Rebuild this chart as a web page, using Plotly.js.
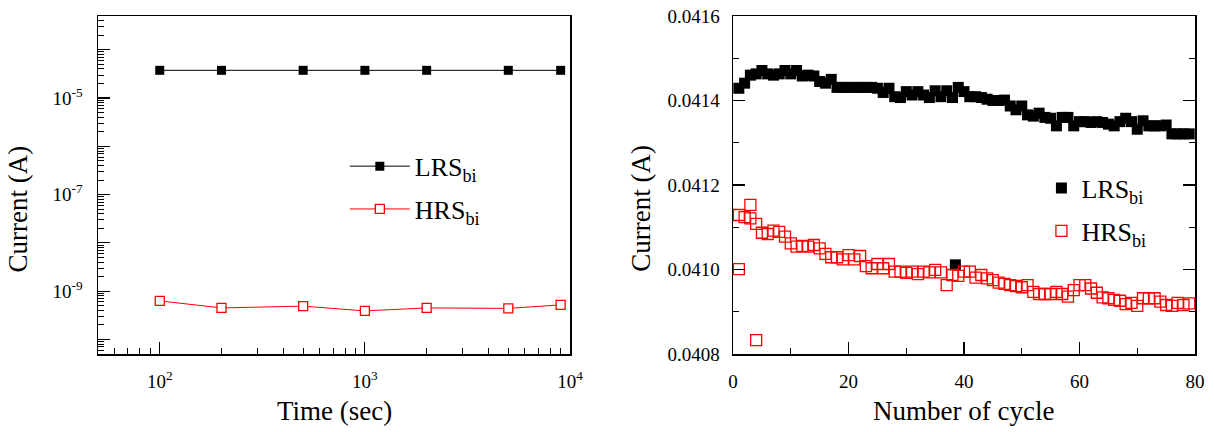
<!DOCTYPE html>
<html><head><meta charset="utf-8">
<script src="https://cdn.plot.ly/plotly-3.0.1.min.js"></script>
<style>html,body{margin:0;padding:0;background:#fff}#chart{width:1214px;height:432px}</style>
</head><body><div id="chart"></div>
<script>
// ---- Left panel: retention (log-log) ----
const timeSec = [100, 200, 500, 1000, 2000, 5000, 9000];
const lrsRetention = [3.75e-5, 3.75e-5, 3.75e-5, 3.75e-5, 3.75e-5, 3.75e-5, 3.75e-5];
const hrsRetention = [6.3e-10, 4.5e-10, 4.9e-10, 3.9e-10, 4.5e-10, 4.4e-10, 5.2e-10];
const leftYTickVals = [1e-10, 1e-9, 1e-8, 1e-7, 1e-6, 1e-5, 1e-4];
const leftYTickText = ['', '10<sup>-9</sup>', '', '10<sup>-7</sup>', '', '10<sup>-5</sup>', ''];
const leftXTickVals = [100, 1000, 10000];
const leftXTickText = ['10<sup>2</sup>', '10<sup>3</sup>', '10<sup>4</sup>'];

// ---- Right panel: endurance ----
const lrsCycle = [1,2,3,4,5,6,7,8,9,10,11,12,13,14,15,16,17,18,19,20,21,22,23,24,25,26,27,28,29,30,31,32,33,34,35,36,37,38,38.5,39,40,41,42,43,44,45,46,47,48,49,50,51,52,53,54,55,56,57,58,59,60,61,62,63,64,65,66,67,68,69,70,71,72,73,74,75,76,77,78,79];
const lrsCurrent = [0.041429,0.041441,0.041460,0.041463,0.041471,0.041463,0.041460,0.041463,0.041471,0.041463,
  0.041471,0.041458,0.041460,0.041458,0.041445,0.041441,0.041450,0.041431,0.041431,0.041431,
  0.041431,0.041431,0.041431,0.041431,0.041429,0.041419,0.041429,0.041409,0.041407,0.041421,
  0.041413,0.041421,0.041413,0.041407,0.041423,0.041409,0.041423,0.041407,0.041011,0.041431,
  0.041421,0.041409,0.041409,0.041407,0.041403,0.041400,0.041400,0.041401,0.041387,0.041378,
  0.041387,0.041366,0.041363,0.041370,0.041360,0.041358,0.041340,0.041360,0.041360,0.041340,
  0.041350,0.041350,0.041348,0.041350,0.041348,0.041344,0.041340,0.041350,0.041358,0.041350,
  0.041332,0.041352,0.041340,0.041340,0.041340,0.041342,0.041321,0.041321,0.041321,0.041321];
const hrsCycle = [1,2,3,4,5,6,7,8,9,10,11,12,13,14,15,16,17,18,19,20,21,22,23,24,25,26,27,28,29,30,31,32,33,34,35,36,37,38,39,40,41,42,43,44,45,46,47,48,49,50,51,52,53,54,55,56,57,58,59,60,61,62,63,64,65,66,67,68,69,70,71,72,73,74,75,76,77,78,79,1,3,4];
const hrsCurrent = [0.041129,0.041124,0.041121,0.041108,0.041087,0.041084,0.041092,0.041089,0.041078,0.041062,
  0.041054,0.041056,0.041054,0.041058,0.041050,0.041037,0.041029,0.041029,0.041024,0.041034,
  0.041024,0.041032,0.041008,0.041003,0.041013,0.041003,0.041013,0.040995,0.040995,0.040992,
  0.040995,0.040989,0.040995,0.040993,0.040999,0.040993,0.040963,0.040987,0.040985,0.040995,
  0.040995,0.040981,0.040987,0.040979,0.040975,0.040969,0.040966,0.040963,0.040961,0.040958,
  0.040963,0.040947,0.040942,0.040942,0.040942,0.040947,0.040942,0.040936,0.040951,0.040963,
  0.040963,0.040955,0.040945,0.040934,0.040932,0.040928,0.040926,0.040918,0.040921,0.040914,
  0.040932,0.040932,0.040932,0.040924,0.040916,0.040914,0.040921,0.040916,0.040920,
  0.041001,0.041153,0.040833];

function decadeMinors(lo, hi) {
  const out = [];
  for (let e = lo; e <= hi; e++) {
    for (let m = 2; m <= 9; m++) out.push(m * Math.pow(10, e));
  }
  return out;
}

const FONT = 'Liberation Serif, Times New Roman, serif';
const traces = [
  {x: timeSec, y: lrsRetention, name: 'LRS<sub>bi</sub>', type: 'scatter', mode: 'lines+markers',
   xaxis: 'x', yaxis: 'y', legend: 'legend', legendgroup: 'a',
   line: {color: '#000', width: 1}, marker: {symbol: 'square', size: 9, color: '#000'}},
  {x: timeSec, y: hrsRetention, name: 'HRS<sub>bi</sub>', type: 'scatter', mode: 'lines+markers',
   xaxis: 'x', yaxis: 'y', legend: 'legend', legendgroup: 'b',
   line: {color: '#ff0000', width: 1}, marker: {symbol: 'square', size: 9, color: '#fff', line: {color: '#ff0000', width: 1.3}}},
  {x: lrsCycle, y: lrsCurrent, name: 'LRS<sub>bi</sub>', type: 'scatter', mode: 'markers',
   xaxis: 'x2', yaxis: 'y2', legend: 'legend2', legendgroup: 'c',
   marker: {symbol: 'square', size: 11, color: '#000'}},
  {x: hrsCycle, y: hrsCurrent, name: 'HRS<sub>bi</sub>', type: 'scatter', mode: 'markers',
   xaxis: 'x2', yaxis: 'y2', legend: 'legend2', legendgroup: 'd',
   marker: {symbol: 'square-open', size: 11, color: '#ff0000', line: {width: 1.3}}}
];

const axBase = {showgrid: false, zeroline: false, showline: true, linecolor: '#000', linewidth: 1.5,
  ticks: 'inside', tickcolor: '#000', tickwidth: 1.2, ticklen: 12, automargin: false,
  tickfont: {family: FONT, size: 19, color: '#000'}};

const layout = {
  width: 1214, height: 432, paper_bgcolor: '#fff', plot_bgcolor: '#fff',
  margin: {l: 98, r: 19, t: 16, b: 78},
  font: {family: FONT, color: '#000'},
  xaxis: Object.assign({}, axBase, {type: 'log', domain: [0, 0.4303], range: [Math.log10(50), 4],
    tickmode: 'array', tickvals: leftXTickVals, ticktext: leftXTickText, mirror: true, anchor: 'y',
    ticklabelstandoff: 10,
    minor: {tickmode: 'array', tickvals: [60,70,80,90].concat(decadeMinors(2, 3)), ticks: 'inside', ticklen: 6, tickcolor: '#000', tickwidth: 1}}),
  yaxis: Object.assign({}, axBase, {type: 'log', domain: [0, 1], range: [Math.log10(5e-11), Math.log10(5e-4)],
    tickmode: 'array', tickvals: leftYTickVals, ticktext: leftYTickText, mirror: true, anchor: 'x',
    ticklabelstandoff: 10,
    minor: {tickmode: 'array', tickvals: decadeMinors(-11, -4).filter(v => v > 5e-11 && v < 5e-4), ticks: 'inside', ticklen: 6, tickcolor: '#000', tickwidth: 1}}),
  xaxis2: Object.assign({}, axBase, {domain: [0.5789, 1], range: [0, 80], dtick: 20, tick0: 0, mirror: true, anchor: 'y2',
    ticklabelstandoff: 10,
    minor: {dtick: 10, ticks: 'inside', ticklen: 6, tickcolor: '#000', tickwidth: 1}}),
  yaxis2: Object.assign({}, axBase, {domain: [0, 1], range: [0.0408, 0.0416], dtick: 0.0002, tick0: 0.0408, tickformat: '.4f',
    mirror: 'ticks', anchor: 'x2', ticklabelstandoff: 8,
    minor: {dtick: 0.0001, ticks: 'inside', ticklen: 6, tickcolor: '#000', tickwidth: 1}}),
  showlegend: true,
  legend: {x: 0.225, y: 0.625, xanchor: 'left', yanchor: 'top', bgcolor: 'rgba(0,0,0,0)', itemwidth: 60,
    traceorder: 'grouped', tracegroupgap: 6,
    font: {family: FONT, size: 26, color: '#000'}},
  legend2: {x: 0.86, y: 0.56, xanchor: 'left', yanchor: 'top', bgcolor: 'rgba(0,0,0,0)',
    traceorder: 'grouped', tracegroupgap: 6,
    font: {family: FONT, size: 26, color: '#000'}},
  annotations: [
    {text: 'Current (A)', xref: 'paper', yref: 'paper', x: -0.073, y: 0.43, textangle: -90, showarrow: false,
     xanchor: 'center', yanchor: 'middle', font: {family: FONT, size: 27, color: '#000'}},
    {text: 'Current (A)', xref: 'paper', yref: 'paper', x: 0.495, y: 0.43, textangle: -90, showarrow: false,
     xanchor: 'center', yanchor: 'middle', font: {family: FONT, size: 27, color: '#000'}},
    {text: 'Time (sec)', xref: 'paper', yref: 'paper', x: 0.2152, y: -0.17, showarrow: false,
     xanchor: 'center', yanchor: 'middle', font: {family: FONT, size: 27, color: '#000'}},
    {text: 'Number of cycle', xref: 'paper', yref: 'paper', x: 0.7894, y: -0.17, showarrow: false,
     xanchor: 'center', yanchor: 'middle', font: {family: FONT, size: 27, color: '#000'}}
  ]
};

Plotly.newPlot('chart', traces, layout, {displayModeBar: false, staticPlot: true});
</script>
</body></html>
